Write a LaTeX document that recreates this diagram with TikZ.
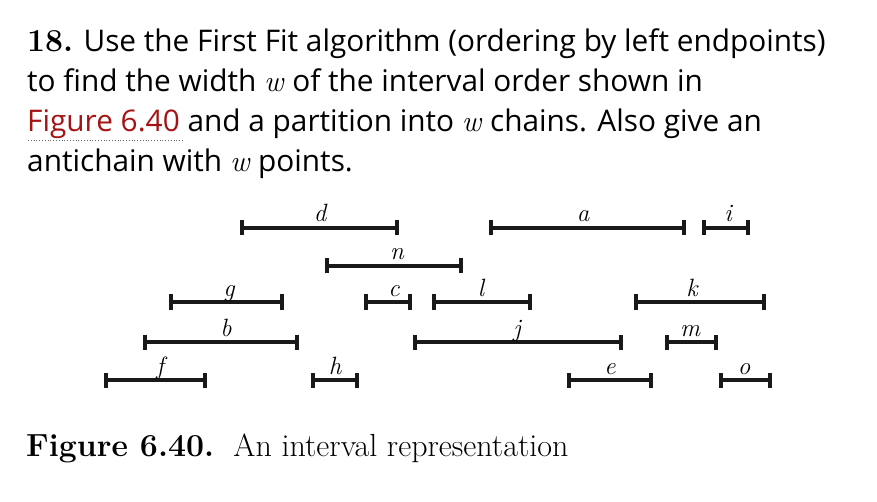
\documentclass[tikz,border=0pt]{standalone}
\usepackage{fontspec}
\setsansfont{Open Sans}
\begin{document}
\begin{tikzpicture}[x=1pt,y=-1pt,
  iv/.style={line width=3.4pt,color=black!90},
  lab/.style={anchor=base,inner sep=0pt,font=\fontsize{25}{25}\selectfont\itshape},
  txt/.style={anchor=base west,inner sep=0pt,font=\sffamily\fontsize{29.8}{30}\selectfont}]
\useasboundingbox (0,0) rectangle (877,502);
\newcommand{\ivl}[5]{%
  \coordinate (#1L) at (#2,#4); \coordinate (#1R) at (#3,#4);
  \draw[iv] (#1L) -- (#1R);
  \draw[iv] ([yshift=-7.5]#1L) -- ([yshift=7.5]#1L);
  \draw[iv] ([yshift=-7.5]#1R) -- ([yshift=7.5]#1R);
  \node[lab] (#1) at (#5,#4-6) {#1};}
\ivl{d}{242}{397}{228}{320}
\ivl{a}{491}{684}{228}{583}
\ivl{i}{704}{748}{228}{728}
\ivl{n}{327}{461}{266}{397}
\ivl{g}{171}{282}{302}{229}
\ivl{c}{366}{410}{302}{394}
\ivl{l}{434}{530}{302}{481}
\ivl{k}{636}{764}{302}{692}
\ivl{b}{145}{297}{342}{226}
\ivl{j}{415}{621}{342}{517}
\ivl{m}{667}{716}{342}{690}
\ivl{f}{106}{205}{380}{160}
\ivl{h}{313}{357}{380}{335}
\ivl{e}{569}{651}{380}{610}
\ivl{o}{721}{770}{380}{744}
\node[txt] (t1) at (27,52) {{\rmfamily\bfseries\fontsize{32}{32}\selectfont 18.} Use the First Fit algorithm (ordering by left endpoints)};
\node[txt] (t2) at (27,92) {to find the width \textit{\rmfamily w} of the interval order shown in};
\node[txt] (t3) at (27,132) {\textcolor[HTML]{A31515}{Figure 6.40} and a partition into \textit{\rmfamily w} chains. Also give an};
\draw[dotted,thick,color=black!60] (28,140) -- (184,140);
\node[txt] (t4) at (27,172) {antichain with \textit{\rmfamily w} points.};
\node[anchor=base west,inner sep=0pt,font=\fontsize{32}{32}\selectfont] (cap) at (26,456) {\textbf{Figure 6.40.}\ \ An interval representation};
\end{tikzpicture}
\end{document}
